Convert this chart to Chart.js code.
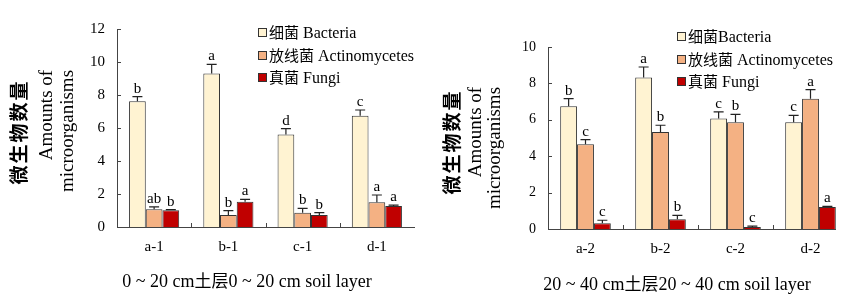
<!DOCTYPE html>
<html>
<head>
<meta charset="utf-8">
<script src="https://cdn.jsdelivr.net/npm/chart.js@4.4.1/dist/chart.umd.min.js"></script>
<style>
body{margin:0;background:#fff;width:850px;height:298px;overflow:hidden;position:relative;font-family:"Liberation Serif",serif;color:#000;}
.box{position:absolute;top:0;height:298px;overflow:hidden;}
.ytitle{position:absolute;white-space:nowrap;transform:translate(-50%,-50%) rotate(-90deg);line-height:1;}
.cn{font-family:"Noto Sans CJK SC",sans-serif;}
.xtitle{position:absolute;white-space:nowrap;transform:translate(-50%,-50%);font-size:18px;line-height:1;}
.legend{position:absolute;font-size:16px;line-height:1;}
.legend div{height:22.5px;white-space:nowrap;}
.legend i{display:inline-block;width:7px;height:7px;border:1px solid #333;margin-right:2px;vertical-align:1px;}
.legend .cn{font-size:15px;}
</style>
</head>
<body>

<div class="box" style="left:0;width:425px;"><canvas id="chart1" width="425" height="298"></canvas></div>
<div class="box" style="left:425px;width:411px;"><canvas id="chart2" width="440" height="298"></canvas></div>

<div class="ytitle cn" style="left:17px;top:132px;font-size:19px;font-weight:bold;letter-spacing:2px;">微生物数量</div>
<div class="ytitle" style="left:45px;top:115px;font-size:19px;">Amounts of</div>
<div class="ytitle" style="left:66px;top:131px;font-size:19px;">microorganisms</div>

<div class="ytitle cn" style="left:450px;top:142px;font-size:19px;font-weight:bold;letter-spacing:2px;">微生物数量</div>
<div class="ytitle" style="left:474px;top:132px;font-size:19px;">Amounts of</div>
<div class="ytitle" style="left:493px;top:148px;font-size:19px;">microorganisms</div>

<div class="xtitle" style="left:247px;top:280px;">0 ~ 20 cm<span class="cn" style="font-size:17px;">土层</span>0 ~ 20 cm soil layer</div>
<div class="xtitle" style="left:677px;top:283px;">20 ~ 40 cm<span class="cn" style="font-size:17px;">土层</span>20 ~ 40 cm soil layer</div>

<div class="legend" id="legend1" style="left:258px;top:24px;"></div>
<div class="legend" id="legend2" style="left:677px;top:28px;"></div>

<script>
// 0~20 cm soil layer
var groups1 = ["a-1", "b-1", "c-1", "d-1"];
var bacteria1 = [7.62, 9.31, 5.6, 6.75];
var bacteria1Err = [0.28, 0.55, 0.36, 0.34];
var bacteria1Sig = ["b", "a", "d", "c"];
var actino1 = [1.07, 0.73, 0.87, 1.5];
var actino1Err = [0.15, 0.26, 0.26, 0.44];
var actino1Sig = ["ab", "b", "b", "a"];
var fungi1 = [1.01, 1.53, 0.73, 1.27];
var fungi1Err = [0.04, 0.15, 0.14, 0.06];
var fungi1Sig = ["b", "a", "b", "a"];
var yTicks1 = [0, 2, 4, 6, 8, 10, 12];

// 20~40 cm soil layer
var groups2 = ["a-2", "b-2", "c-2", "d-2"];
var bacteria2 = [6.74, 8.32, 6.07, 5.86];
var bacteria2Err = [0.42, 0.58, 0.36, 0.38];
var bacteria2Sig = ["b", "a", "c", "c"];
var actino2 = [4.65, 5.33, 5.86, 7.16];
var actino2Err = [0.26, 0.37, 0.44, 0.5];
var actino2Sig = ["c", "b", "b", "a"];
var fungi2 = [0.31, 0.53, 0.11, 1.21];
var fungi2Err = [0.17, 0.22, 0.05, 0.03];
var fungi2Sig = ["c", "b", "c", "a"];
var yTicks2 = [0, 1, 2, 3, 4, 5, 6, 7, 8, 9, 10];

var labels1 = ["细菌 Bacteria", "放线菌 Actinomycetes", "真菌 Fungi"];
var labels2 = ["细菌Bacteria", "放线菌 Actinomycetes", "真菌 Fungi"];
var colors = ["#FFF3D2", "#F4B183", "#C00000"];

var errPlugin = {
    id: "errbars",
    afterDatasetsDraw: function(chart){
        var ctx = chart.ctx;
        var yScale = chart.scales.y;
        var xScale = chart.scales.x;
        var area = chart.chartArea;
        ctx.save();
        ctx.strokeStyle = "#222";
        ctx.lineWidth = 1.2;
        chart.data.datasets.forEach(function(ds, i){
            var meta = chart.getDatasetMeta(i);
            meta.data.forEach(function(bar, j){
                var top = yScale.getPixelForValue(ds.data[j] + ds.err[j]);
                ctx.beginPath();
                ctx.moveTo(bar.x, bar.y);
                ctx.lineTo(bar.x, top);
                ctx.moveTo(bar.x - 5, top);
                ctx.lineTo(bar.x + 5, top);
                ctx.stroke();
                ctx.fillStyle = "#000";
                ctx.font = "15px 'Liberation Serif'";
                ctx.textAlign = "center";
                ctx.textBaseline = "alphabetic";
                ctx.fillText(ds.sig[j], bar.x, top - 4);
            });
        });
        // inner ticks
        ctx.strokeStyle = "#444";
        ctx.lineWidth = 1;
        ctx.beginPath();
        yScale.ticks.forEach(function(t){
            var y = Math.round(yScale.getPixelForValue(t.value)) + 0.5;
            ctx.moveTo(area.left, y);
            ctx.lineTo(area.left + 4, y);
        });
        for (var k = 1; k < chart.data.labels.length; k++) {
            var x = Math.round((xScale.getPixelForTick(k - 1) + xScale.getPixelForTick(k)) / 2) + 0.5;
            ctx.moveTo(x, area.bottom);
            ctx.lineTo(x, area.bottom - 4);
        }
        ctx.stroke();
        ctx.restore();
    }
};

function makeChart(id, groups, series, errs, sigs, names, yMax, step, pad, yWidth, xHeight, tickSize){
    var datasets = [];
    for (var i = 0; i < series.length; i++) {
        datasets.push({
            label: names[i],
            data: series[i],
            err: errs[i],
            sig: sigs[i],
            backgroundColor: colors[i],
            borderColor: "#333",
            borderWidth: 1,
            categoryPercentage: 0.675,
            barPercentage: 1.0
        });
    }
    var ctx = document.getElementById(id).getContext("2d");
    return new Chart(ctx, {
        type: "bar",
        data: { labels: groups, datasets: datasets },
        options: {
            responsive: false,
            animation: false,
            devicePixelRatio: 1,
            layout: { padding: pad },
            plugins: { legend: { display: false }, tooltip: { enabled: false } },
            scales: {
                x: {
                    grid: { display: false, drawTicks: false },
                    border: { display: true, color: "#444", width: 1 },
                    ticks: { color: "#000", padding: 11, font: { family: "Liberation Serif", size: 15 } },
                    afterFit: function(s){ s.height = xHeight; }
                },
                y: {
                    min: 0, max: yMax,
                    grid: { display: false, drawTicks: false },
                    border: { display: true, color: "#444", width: 1 },
                    ticks: { stepSize: step, color: "#000", padding: 12, font: { family: "Liberation Serif", size: tickSize } },
                    afterFit: function(s){ s.width = yWidth; }
                }
            }
        },
        plugins: [errPlugin]
    });
}

function fillLegend(id, names){
    var html = "";
    for (var i = 0; i < names.length; i++) {
        var parts = names[i].match(/^([^\x00-\x7f]+)(.*)$/);
        html += '<div><i style="background:' + colors[i] + '"></i><span class="cn">' + parts[1] + '</span>' + parts[2] + '</div>';
    }
    document.getElementById(id).innerHTML = html;
}

makeChart("chart1", groups1, [bacteria1, actino1, fungi1], [bacteria1Err, actino1Err, fungi1Err],
    [bacteria1Sig, actino1Sig, fungi1Sig], labels1, 12, 2, { left: 0, right: 11, top: 29, bottom: 0 }, 117, 71, 15);
makeChart("chart2", groups2, [bacteria2, actino2, fungi2], [bacteria2Err, actino2Err, fungi2Err],
    [bacteria2Sig, actino2Sig, fungi2Sig], labels2, 10, 1, { left: 0, right: 17, top: 47, bottom: 0 }, 123, 69, 14);

fillLegend("legend1", labels1);
fillLegend("legend2", labels2);
</script>
</body>
</html>
